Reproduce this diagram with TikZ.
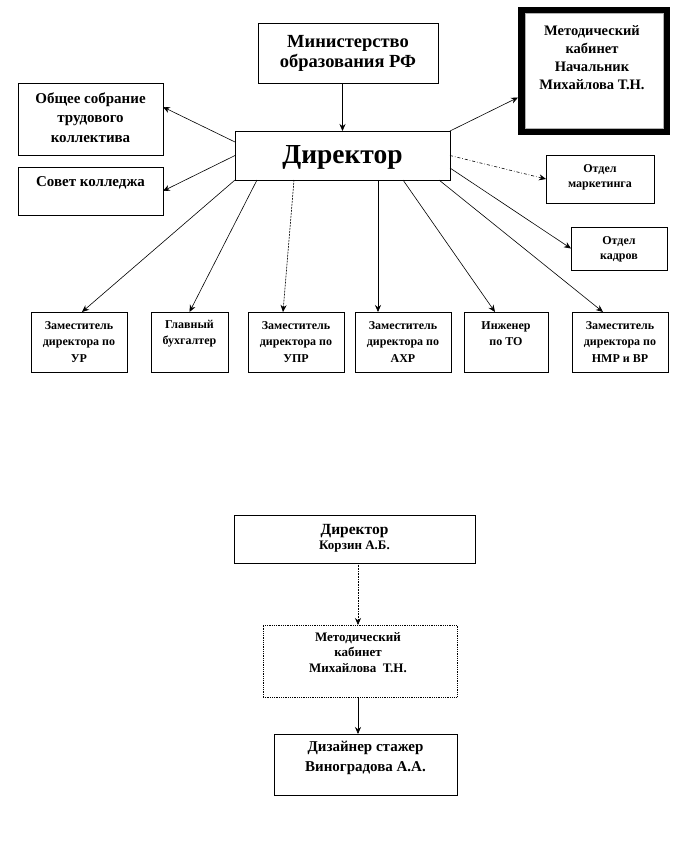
\documentclass[tikz,border=0pt]{standalone}
\usepackage{fontspec}
\setmainfont{Liberation Serif}
\usetikzlibrary{arrows.meta,calc}
\begin{document}
\begin{tikzpicture}[x=1pt,y=-1pt,
  box/.style={draw, line width=0.8pt, rectangle, inner sep=0pt, outer sep=0pt},
  txt/.style={align=center, inner sep=0pt},
  arr/.style={line width=0.6pt, -{Stealth[length=7pt,width=6pt]}},
  fA/.style={font=\bfseries\fontsize{18.5}{20}\selectfont},
  fB/.style={font=\bfseries\fontsize{15}{19.5}\selectfont},
  fC/.style={font=\bfseries\fontsize{12}{15}\selectfont},
  fD/.style={font=\bfseries\fontsize{12}{16.5}\selectfont},
]
\useasboundingbox (0,0) rectangle (690,855);

% ---------- upper chart boxes ----------
\node[box, minimum width=180, minimum height=60] (min) at (348,53) {};
\node[box, minimum width=215, minimum height=49] (dir) at (342.5,155.5) {};
\node[box, minimum width=145, minimum height=72] (ob) at (90.5,119) {};
\node[box, minimum width=145, minimum height=48] (sv) at (90.5,191) {};
\node[box, line width=7pt, outer sep=3.5pt, minimum width=145, minimum height=121] (met) at (594,71) {};
\draw[gray!60, line width=0.6pt] ([xshift=7.5pt,yshift=-6.5pt]met.north west) rectangle ([xshift=-6.5pt,yshift=7pt]met.south east);
\node[box, minimum width=108, minimum height=48] (mk) at (600,179) {};
\node[box, minimum width=96, minimum height=43] (kd) at (619,248.5) {};
\node[box, minimum width=96, minimum height=60] (b1) at (79,342) {};
\node[box, minimum width=77, minimum height=60] (b2) at (189.5,342) {};
\node[box, minimum width=96, minimum height=60] (b3) at (296,342) {};
\node[box, minimum width=96, minimum height=60] (b4) at (403,342) {};
\node[box, minimum width=84, minimum height=60] (b5) at (506,342) {};
\node[box, minimum width=96, minimum height=60] (b6) at (620,342) {};

% ---------- upper chart texts ----------
\node[txt, fA] (tmin) at (348,53) {Министерство\\образования РФ};
\node[txt, font=\bfseries\fontsize{27.5}{28}\selectfont] (tdir) at (342.5,157) {Директор};
\node[txt, fB] (tob) at (90.5,117.5) {Общее собрание\\трудового\\коллектива};
\node[txt, fB] (tsv) at (90.5,183) {Совет колледжа};
\node[txt, font=\bfseries\fontsize{14.5}{18}\selectfont] (tmet) at (592,57.5) {Методический\\кабинет\\Начальник\\Михайлова Т.Н.};
\node[txt, fC] (tmk) at (600,177.5) {Отдел\\маркетинга};
\node[txt, fC] (tkd) at (619,249.5) {Отдел\\кадров};
\node[txt, fD] (tb1) at (79,342) {Заместитель\\директора по\\УР};
\node[txt, fD] (tb2) at (189.5,333.5) {Главный\\бухгалтер};
\node[txt, fD] (tb3) at (296,342) {Заместитель\\директора по\\УПР};
\node[txt, fD] (tb4) at (403,342) {Заместитель\\директора по\\АХР};
\node[txt, fD] (tb5) at (506,333.5) {Инженер\\по ТО};
\node[txt, fD] (tb6) at (620,342) {Заместитель\\директора по\\НМР и ВР};

% ---------- upper chart connectors ----------
\draw[arr] (min.south -| dir.north) -- (dir.north);
\draw[arr] ([yshift=13.5pt]dir.west) -- ([yshift=12pt]ob.east);
\draw[arr] (dir.west) -- (sv.east);
\draw[arr] (dir.north east) -- ([yshift=-26.5pt]met.west);
\draw[arr, dash dot] (dir.east) -- (mk.west);
\draw[arr] ([yshift=-12.5pt]dir.east) -- (kd.west);
\draw[arr] (dir.south west) -- ([xshift=3pt]b1.north);
\draw[arr] ([xshift=22pt]dir.south west) -- (b2.north);
\draw[arr, dash pattern=on 2pt off 1pt] ([xshift=59pt]dir.south west) -- ([xshift=-13pt]b3.north);
\draw[arr] ([xshift=143pt]dir.south west) -- ([xshift=-25pt]b4.north);
\draw[arr] ([xshift=168pt]dir.south west) -- ([xshift=-11pt]b5.north);
\draw[arr] ([xshift=204pt]dir.south west) -- ([xshift=-17pt]b6.north);

% ---------- lower chart ----------
\node[box, minimum width=241, minimum height=48] (d2) at (354.5,539) {};
\node[box, densely dotted, minimum width=194, minimum height=72] (m2) at (360,661) {};
\node[box, minimum width=183, minimum height=61] (z2) at (365.5,764.5) {};
\node[txt, font=\bfseries\fontsize{15.5}{15}\selectfont] (td2) at (354.5,538.5) {Директор\\\fontsize{13}{15}\selectfont Корзин А.Б.};
\node[txt, font=\bfseries\fontsize{13}{15.5}\selectfont] (tm2) at (358,652.5) {Методический\\кабинет\\Михайлова~ Т.Н.};
\node[txt, font=\bfseries\fontsize{15}{20}\selectfont] (tz2) at (365.5,758) {Дизайнер стажер\\Виноградова А.А.};
\draw[arr, densely dotted] ([xshift=3.5pt]d2.south) -- ([xshift=-2pt]m2.north);
\draw[arr] ([xshift=-2pt]m2.south) -- ([xshift=-7.5pt]z2.north);
\end{tikzpicture}
\end{document}
